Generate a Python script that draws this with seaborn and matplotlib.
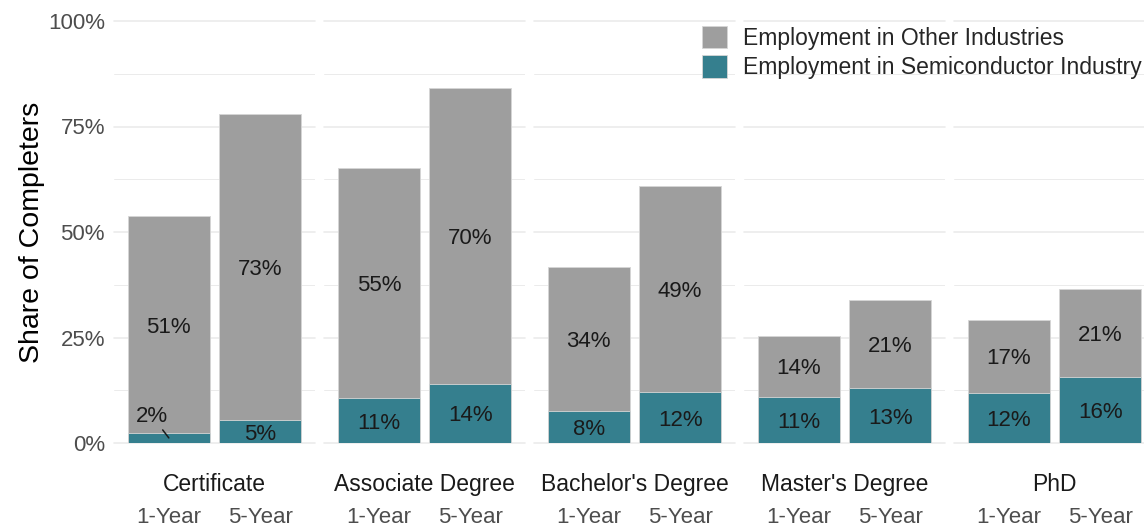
import matplotlib
matplotlib.use("Agg")
import matplotlib.pyplot as plt
from matplotlib.patches import Patch
from matplotlib.ticker import MultipleLocator, FuncFormatter
import pandas as pd
import seaborn as sns

# Share of completers employed 1 and 5 years after completion (%)
levels = ["Certificate", "Associate Degree", "Bachelor's Degree", "Master's Degree", "PhD"]
periods = ["1-Year", "5-Year"]
semi_1yr = [2.4, 10.6, 7.7, 11.0, 11.8]
semi_5yr = [5.4, 14.0, 12.0, 13.0, 15.6]
other_1yr = [51.3, 54.6, 34.0, 14.4, 17.4]
other_5yr = [72.6, 70.1, 49.0, 21.0, 20.8]

GRAY = "#9e9e9e"
TEAL = "#357f8e"
GRID = "#ebebeb"
EDGE = "#d6d6d6"

rows = []
for i, lvl in enumerate(levels):
    for p, s, o in zip(periods, (semi_1yr[i], semi_5yr[i]), (other_1yr[i], other_5yr[i])):
        rows.append({"level": lvl, "period": p, "semi": s, "other": o, "total": s + o})
df = pd.DataFrame(rows)

sns.set_theme(style="white")
plt.rcParams["font.family"] = ["Liberation Sans", "DejaVu Sans"]

W, H = 1144, 529
fig = plt.figure(figsize=(W / 100, H / 100), dpi=100)

panel_w, panel_step, panel_left = 201, 210, 114
y_top, y_bot = 21, 443

for i, lvl in enumerate(levels):
    left = panel_left + i * panel_step
    ax = fig.add_axes([left / W, (H - y_bot) / H, panel_w / W, (y_bot - y_top) / H])
    sub = df[df["level"] == lvl]

    # stacked bars: full height in gray, semiconductor share drawn over it
    sns.barplot(data=sub, x="period", y="total", order=periods, color=GRAY,
                saturation=1, width=0.9, errorbar=None, ax=ax,
                edgecolor=EDGE, linewidth=0.6)
    sns.barplot(data=sub, x="period", y="semi", order=periods, color=TEAL,
                saturation=1, width=0.9, errorbar=None, ax=ax,
                edgecolor=EDGE, linewidth=0.6)

    for j, (_, r) in enumerate(sub.iterrows()):
        ax.text(j, r["semi"] + r["other"] / 2, f"{r['other']:.0f}%", ha="center",
                va="center_baseline", fontsize=16, color="#1a1a1a")
        if r["semi"] < 4:
            ax.annotate(f"{r['semi']:.0f}%", xy=(j, r["semi"] * 0.5),
                        xytext=(-12, 17.5), textcoords="offset points",
                        ha="center", va="center_baseline", fontsize=16,
                        color="#1a1a1a",
                        arrowprops=dict(arrowstyle="-", color="#1a1a1a", lw=1.1,
                                        shrinkA=0, shrinkB=0))
        else:
            ax.text(j, r["semi"] / 2, f"{r['semi']:.0f}%", ha="center",
                    va="center_baseline", fontsize=16, color="#1a1a1a")

    ax.set_xlim(-0.6, 1.6)
    ax.set_ylim(0, 100)
    ax.yaxis.set_major_locator(MultipleLocator(25))
    ax.yaxis.set_minor_locator(MultipleLocator(12.5))
    ax.yaxis.set_major_formatter(FuncFormatter(lambda v, _: f"{v:.0f}%"))
    ax.grid(axis="y", which="major", color=GRID, lw=1.2)
    ax.grid(axis="y", which="minor", color=GRID, lw=0.7)
    ax.grid(axis="x", visible=False)
    for gl in ax.get_ygridlines():
        gl.set_clip_on(False)
    ax.set_axisbelow(True)
    for sp in ax.spines.values():
        sp.set_visible(False)

    ax.set_xlabel("")
    ax.tick_params(axis="x", length=0, pad=53.5, labelsize=16, labelcolor="#4d4d4d")
    for t in ax.get_xticklabels():
        t.set_va("center")
    ax.text(0.5, -0.099, lvl, transform=ax.transAxes, ha="center", va="center",
            fontsize=16.5, color="#1a1a1a")

    if i == 0:
        ax.tick_params(axis="y", which="both", length=0, pad=6.5, labelsize=16,
                       labelcolor="#4d4d4d")
        ax.set_ylabel("Share of Completers", fontsize=20.5, color="black")
        ax.yaxis.set_label_coords(-0.343, 0.5)
    else:
        ax.tick_params(axis="y", which="both", length=0, labelleft=False)
        ax.set_ylabel("")

handles = [Patch(facecolor=GRAY, edgecolor=EDGE, lw=0.6),
           Patch(facecolor=TEAL, edgecolor=EDGE, lw=0.6)]
fig.legend(handles, ["Employment in Other Industries",
                     "Employment in Semiconductor Industry"],
           loc="upper left", bbox_to_anchor=(702 / W, 1 - 26 / H),
           frameon=False, fontsize=16.5, borderpad=0, borderaxespad=0,
           handlelength=1.07, handleheight=1.12, labelspacing=0.24,
           handletextpad=0.72)

fig.savefig("out.png", dpi=100)
